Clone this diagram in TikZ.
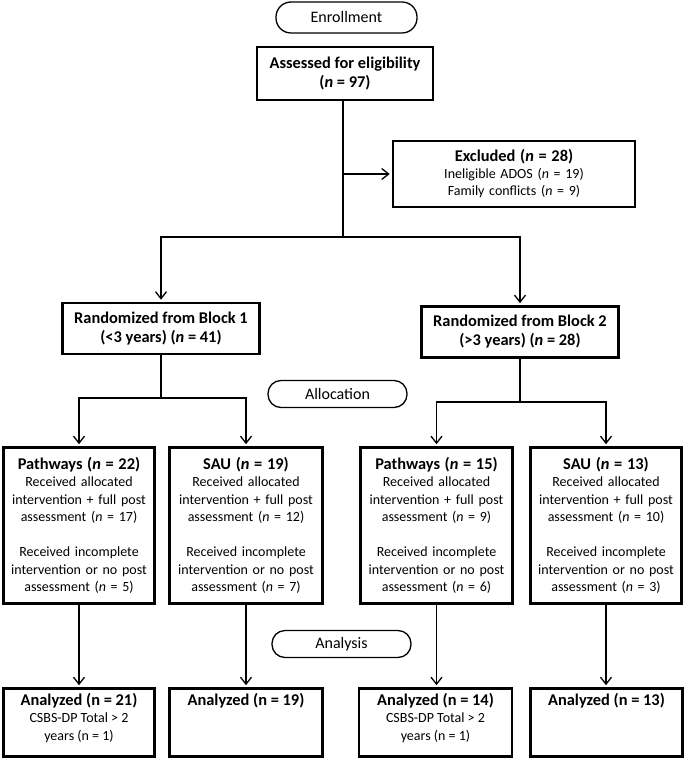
\documentclass[tikz,border=0pt]{standalone}
\usepackage{fontspec}
\setmainfont{Carlito}
\usetikzlibrary{arrows.meta}
\newcommand{\hdf}{\fontsize{16.4}{19}\selectfont\bfseries}
\newcommand{\bdf}{\fontsize{14}{17.5}\selectfont}
\begin{document}
\begin{tikzpicture}[x=1pt,y=-1pt,
 box/.style={draw, line width=2.6pt, align=center, inner sep=0pt, font=\bdf},
 pill/.style={draw, line width=1.3pt, rounded corners=13pt, align=center, inner sep=0pt, font=\fontsize{16}{19}\selectfont},
 txt/.style={align=center, inner sep=0pt, font=\bdf},
 conn/.style={line width=1.3pt},
 arr/.style={conn, shorten >=2pt, -{Straight Barb[length=7pt,width=11pt]}},
]
\useasboundingbox (0,0) rectangle (685,759);

\node[pill, minimum width=141pt, minimum height=31pt, rounded corners=15pt] (enroll) at (346.5,17.5) {Enrollment};
\node[box, minimum width=176pt, minimum height=53pt, font=\hdf] (assess) at (345,73.5) {Assessed for eligibility\\(\textit{n} = 97)};
\node[box, minimum width=242pt, minimum height=66pt, text width=238pt] (excl) at (514,174) {{\hdf Excluded (\textit{n} = 28)}\\[-1pt]Ineligible ADOS (\textit{n} = 19)\\Family conflicts (\textit{n} = 9)};

\node[box, minimum width=197pt, minimum height=51pt, font=\hdf] (b1) at (161,328.5) {Randomized from Block 1\\(<3 years) (\textit{n} = 41)};
\node[box, minimum width=197pt, minimum height=51pt, font=\hdf] (b2) at (520,332) {Randomized from Block 2\\(>3 years) (\textit{n} = 28)};

\node[pill, minimum width=139pt, minimum height=27pt] (alloc) at (337.5,394) {Allocation};

\node[box, minimum width=151pt, minimum height=156pt, text width=148pt] (p1) at (79,525.5) {{\hdf Pathways (\textit{n} = 22)}\\Received allocated\\intervention + full post\\assessment (\textit{n} = 17)\\[17.5pt]Received incomplete\\intervention or no post\\assessment (\textit{n} = 5)};
\node[box, minimum width=153pt, minimum height=156pt, text width=150pt] (s1) at (246,525.5) {{\hdf SAU (\textit{n} = 19)}\\Received allocated\\intervention + full post\\assessment (\textit{n} = 12)\\[17.5pt]Received incomplete\\intervention or no post\\assessment (\textit{n} = 7)};
\node[box, minimum width=152pt, minimum height=156pt, text width=149pt] (p2) at (436.5,525.5) {{\hdf Pathways (\textit{n} = 15)}\\Received allocated\\intervention + full post\\assessment (\textit{n} = 9)\\[17.5pt]Received incomplete\\intervention or no post\\assessment (\textit{n} = 6)};
\node[box, minimum width=151pt, minimum height=156pt, text width=148pt] (s2) at (606,525.5) {{\hdf SAU (\textit{n} = 13)}\\Received allocated\\intervention + full post\\assessment (\textit{n} = 10)\\[17.5pt]Received incomplete\\intervention or no post\\assessment (\textit{n} = 3)};

\node[pill, minimum width=139pt, minimum height=27pt] (analysis) at (341.5,644) {Analysis};

\node[box, minimum width=151pt, minimum height=68pt] (a1) at (79,722.5) {};
\node[box, minimum width=153pt, minimum height=68pt] (a2) at (246,722.5) {};
\node[box, minimum width=153pt, minimum height=68pt] (a3) at (435.5,722.5) {};
\node[box, minimum width=152pt, minimum height=68pt] (a4) at (606.5,722.5) {};
\node[txt, anchor=north] (a1t) at (79,693) {{\hdf Analyzed (n = 21)}\\CSBS-DP Total > 2\\years (n = 1)};
\node[txt, anchor=north] (a2t) at (246,693) {{\hdf Analyzed (n = 19)}};
\node[txt, anchor=north] (a3t) at (435.5,693) {{\hdf Analyzed (n = 14)}\\CSBS-DP Total > 2\\years (n = 1)};
\node[txt, anchor=north] (a4t) at (606.5,693) {{\hdf Analyzed (n = 13)}};

% connectors
\coordinate (j0) at (343,237);
\coordinate (jl) at (161,237);
\coordinate (jr) at (520,237);
\draw[conn] (j0 |- assess.south) -- (j0);
\draw[conn] ([xshift=-0.65pt]jl) -- ([xshift=0.65pt]jr);
\draw[arr] (j0 |- excl.west) -- (excl.west);
\draw[arr] (jl) -- (b1.north);
\draw[arr] (jr) -- (b2.north);

\coordinate (k0) at (161,398);
\coordinate (kl) at (79,398);
\coordinate (kr) at (246,398);
\draw[conn] (b1.south) -- (k0);
\draw[conn] ([xshift=-0.65pt]kl) -- ([xshift=0.65pt]kr);
\draw[arr] (kl) -- (p1.north);
\draw[arr] (kr) -- (s1.north);

\coordinate (m0) at (520,402);
\coordinate (ml) at (436.5,402);
\coordinate (mr) at (606,402);
\draw[conn] (b2.south) -- (m0);
\draw[conn] ([xshift=-0.65pt]ml) -- ([xshift=0.65pt]mr);
\draw[arr] (ml) -- (p2.north);
\draw[arr] (mr) -- (s2.north);

\draw[arr] (p1.south) -- (p1.south |- a1.north);
\draw[arr] (s1.south) -- (s1.south |- a2.north);
\draw[arr] (p2.south) -- (p2.south |- a3.north);
\draw[arr] (s2.south) -- (s2.south |- a4.north);
\end{tikzpicture}
\end{document}
